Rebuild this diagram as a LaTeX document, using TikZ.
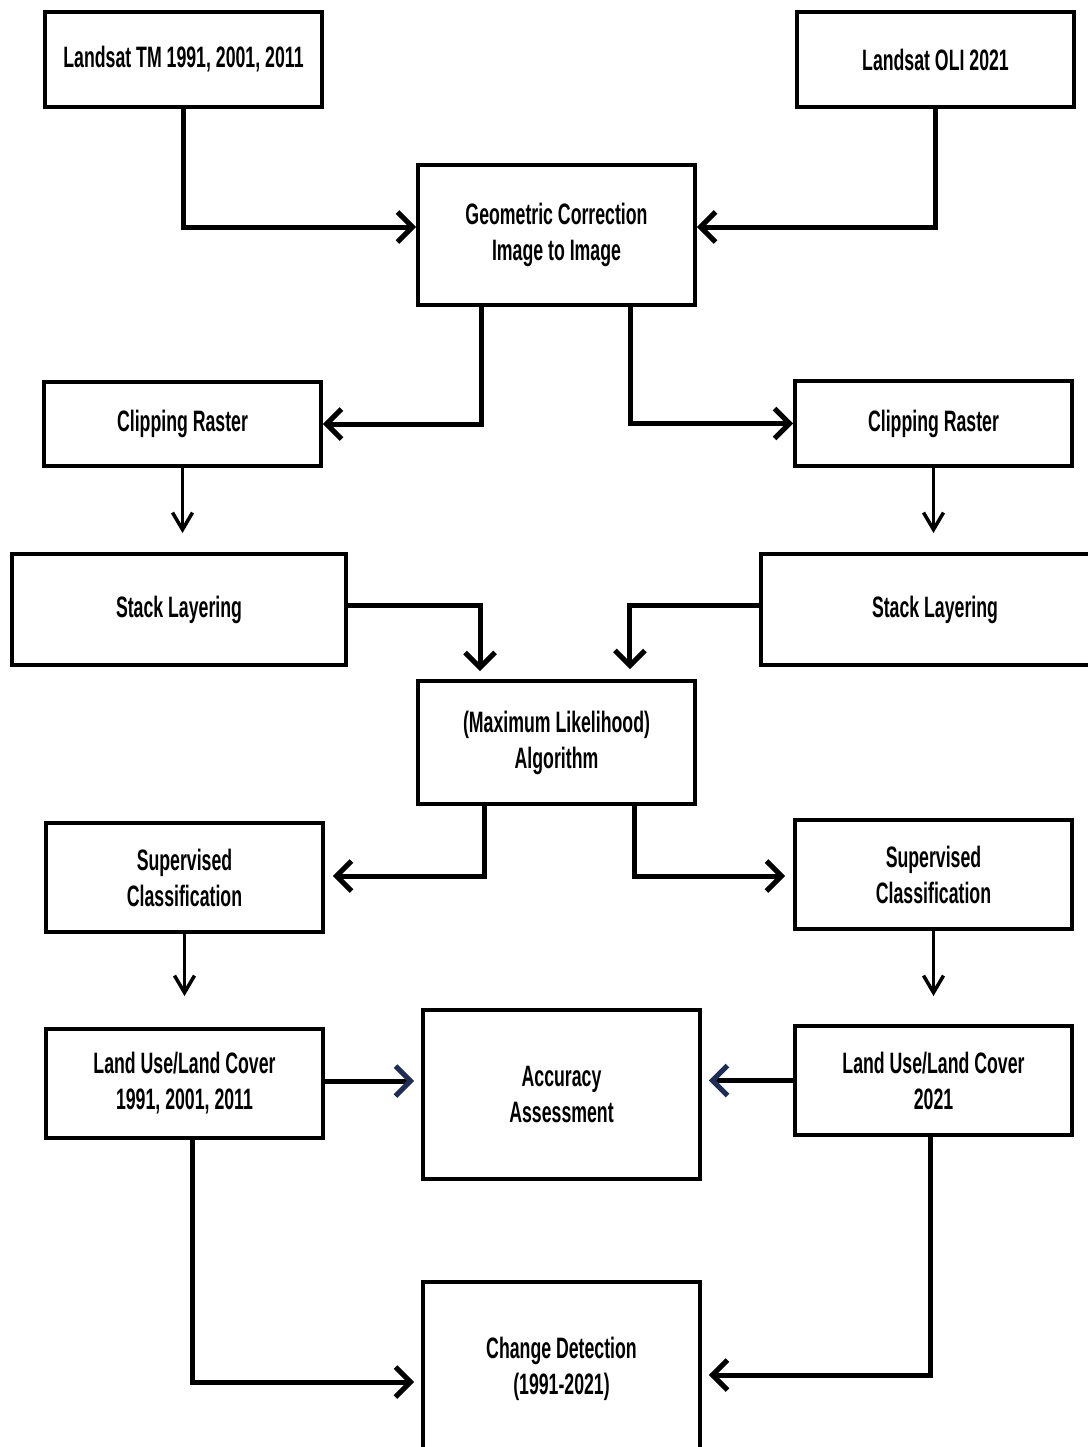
\documentclass[tikz,border=0pt]{standalone}
\usepackage{fontspec}
\setmainfont{Liberation Sans}[FakeStretch=0.6]
\usepackage{tikz}
\usetikzlibrary{arrows.meta}
\definecolor{navytip}{HTML}{1F2D55}
\newcommand{\boxw}{5.54cm}
\tikzset{
  box/.style={draw=black, line width=0.08cm, fill=white, inner sep=0pt,
    minimum width=\boxw, align=center, font=\fontsize{16.8}{20.5}\selectfont\bfseries},
  link/.style={draw=black, line width=0.1cm,
    -{Straight Barb[length=0.3cm, width=0.6cm]}},
  thinlink/.style={draw=black, line width=0.07cm,
    -{Straight Barb[length=0.34cm, width=0.4cm]}},
  bluelink/.style={draw=black, line width=0.1cm,
    -{Straight Barb[length=0.3cm, width=0.6cm, color=navytip]}}
}

\begin{document}
\begin{tikzpicture}[x=0.02cm, y=-0.02cm]

    \useasboundingbox (0, 0) rectangle (1088, 1447);

    % inputs
    \node[box, minimum height=1.9cm] (tm) at (183.5, 59.5) {Landsat TM 1991, 2001, 2011};
    \node[box, minimum height=1.9cm] (oli) at (935.5, 59.5) {Landsat OLI 2021};

    \node[box, minimum height=2.8cm] (geo) at (556.5, 235) {Geometric Correction\\Image to Image};

    \node[box, minimum height=1.68cm] (clipl) at (182.5, 424) {Clipping Raster};
    \node[box, minimum height=1.7cm] (clipr) at (933.5, 423.5) {Clipping Raster};

    \node[box, minimum width=6.68cm, minimum height=2.22cm] (stackl) at (179, 609.5) {Stack Layering};
    \node[box, minimum width=6.96cm, minimum height=2.22cm] (stackr) at (935, 609.5) {Stack Layering};

    \node[box, minimum height=2.46cm] (ml) at (556.5, 742.5) {(Maximum Likelihood)\\Algorithm};

    \node[box, minimum height=2.18cm] (supl) at (184.5, 877.5) {Supervised\\Classification};
    \node[box, minimum height=2.18cm] (supr) at (933.5, 874.5) {Supervised\\Classification};

    \node[box, minimum height=2.18cm] (lulcl) at (184.5, 1083.5) {Land Use/Land Cover\\1991, 2001, 2011};
    \node[box, minimum height=2.18cm] (lulcr) at (933.5, 1080.5) {Land Use/Land Cover\\2021};

    \node[box, minimum height=3.38cm] (acc) at (561.5, 1094.5) {Accuracy\\Assessment};
    \node[box, minimum height=3.48cm] (chg) at (561.5, 1369) {Change Detection\\(1991-2021)};

    % connectors
    \draw[link] (tm.south) |- ([yshift=0.16cm]geo.west);
    \draw[link] (oli.south) |- ([yshift=0.16cm]geo.east);

    \draw[link] ([xshift=-1.51cm]geo.south) |- (clipl.east);
    \draw[link] ([xshift=1.49cm]geo.south) |- (clipr.west);

    \draw[thinlink, shorten >=0.38cm] (clipl.south) -- (clipl.south |- stackl.north);
    \draw[thinlink, shorten >=0.38cm] (clipr.south) -- (clipr.south |- stackr.north);

    \draw[link, shorten >=0.16cm] ([yshift=0.09cm]stackl.east) -| ([xshift=-1.53cm]ml.north);
    \draw[link, shorten >=0.2cm] ([yshift=0.09cm]stackr.west) -| ([xshift=1.47cm]ml.north);

    \draw[link, shorten >=0.16cm] ([xshift=-1.45cm]ml.south) |- ([yshift=0.03cm]supl.east);
    \draw[link, shorten >=0.16cm] ([xshift=1.57cm]ml.south) |- ([yshift=-0.03cm]supr.west);

    \draw[thinlink, shorten >=0.62cm] (supl.south) -- (supl.south |- lulcl.north);
    \draw[thinlink, shorten >=0.56cm] (supr.south) -- (supr.south |- lulcr.north);

    \draw[bluelink, shorten >=0.14cm] ([yshift=0.05cm]lulcl.east) -- ([yshift=0.05cm]lulcl.east -| acc.west);
    \draw[bluelink, shorten >=0.14cm] (lulcr.west) -- (lulcr.west -| acc.east);

    \draw[link, shorten >=0.14cm] ([xshift=0.15cm]lulcl.south) |- ([yshift=-0.26cm]chg.west);
    \draw[link, shorten >=0.14cm] ([xshift=-0.07cm]lulcr.south) |- ([yshift=-0.12cm]chg.east);

\end{tikzpicture}
\end{document}
